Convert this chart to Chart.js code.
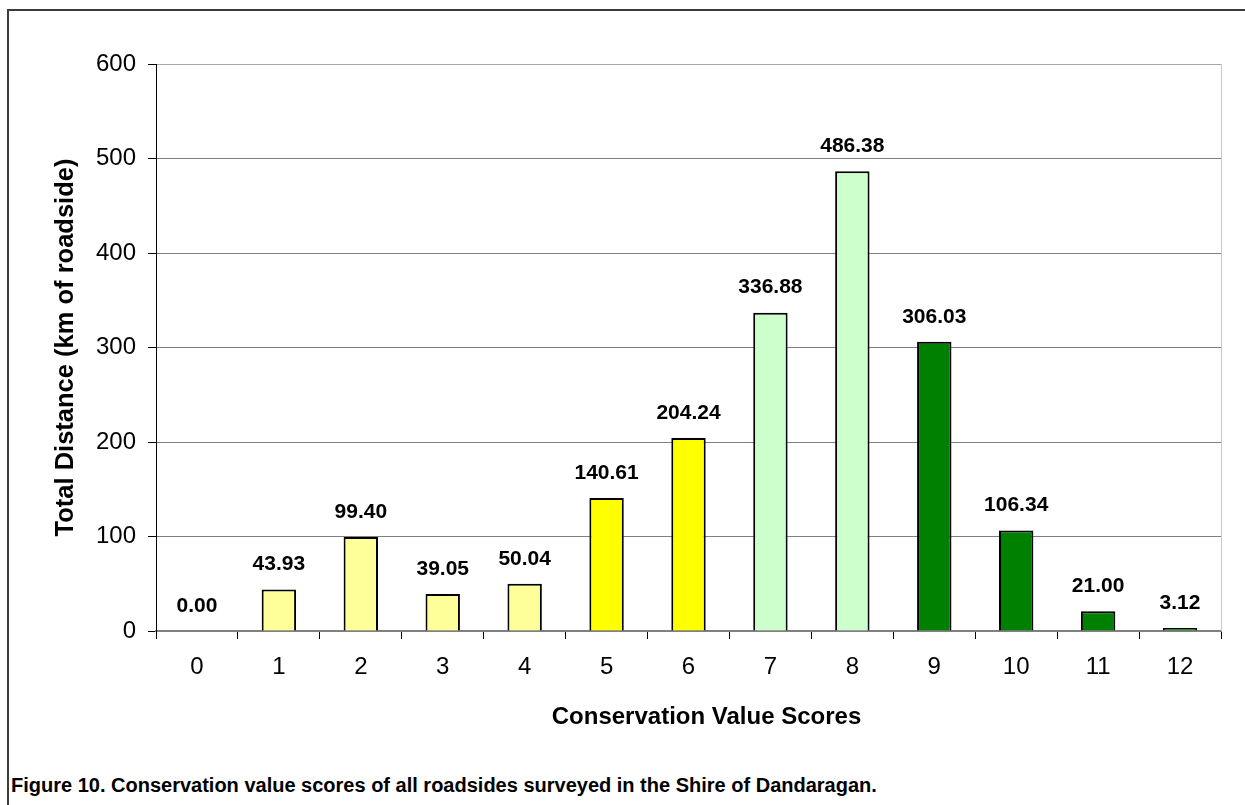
<!DOCTYPE html>
<html>
<head>
<meta charset="utf-8">
<script src="https://cdn.jsdelivr.net/npm/chart.js@4.4.1/dist/chart.umd.min.js"></script>
<style>
  html, body { margin: 0; padding: 0; background: #fff; }
  body { width: 1245px; height: 805px; position: relative; overflow: hidden; }
  #frame {
    position: absolute; left: 7px; top: 9px; width: 1260px; height: 820px;
    border-left: 2px solid #3c3c3c; border-top: 2px solid #3c3c3c;
  }
  #chart { position: absolute; left: 0; top: 0; }
  #caption {
    position: absolute; left: 11px; top: 773px;
    font-family: "Liberation Sans", Arial, sans-serif; font-weight: bold;
    font-size: 20px; line-height: 24px; color: #000; white-space: nowrap;
  }
</style>
</head>
<body>
<div id="frame"></div>
<canvas id="chart" width="1245" height="760"></canvas>
<div id="caption">Figure 10. Conservation value scores of all roadsides surveyed in the Shire of Dandaragan.</div>
<script>
// Conservation value score classes and total roadside length (km) in each
const scores = ['0', '1', '2', '3', '4', '5', '6', '7', '8', '9', '10', '11', '12'];
const distanceKm = [0.00, 43.93, 99.40, 39.05, 50.04, 140.61, 204.24, 336.88, 486.38, 306.03, 106.34, 21.00, 3.12];
const yTicks = [0, 100, 200, 300, 400, 500, 600];
const xTitle = 'Conservation Value Scores';
const yTitle = 'Total Distance (km of roadside)';

// Fill colours by score band: very low, low, medium, high
const barColors = [
  '#FFFF99', '#FFFF99', '#FFFF99', '#FFFF99', '#FFFF99',
  '#FFFF00', '#FFFF00',
  '#CCFFCC', '#CCFFCC',
  '#008000', '#008000', '#008000', '#008000'
];

const FONT = '"Liberation Sans", Arial, sans-serif';

// Value labels printed above each bar
const valueLabels = {
  id: 'valueLabels',
  afterDatasetsDraw(chart) {
    const { ctx } = chart;
    const meta = chart.getDatasetMeta(0);
    ctx.save();
    ctx.font = 'bold 21px ' + FONT;
    ctx.fillStyle = '#000';
    ctx.textAlign = 'center';
    ctx.textBaseline = 'middle';
    meta.data.forEach((bar, i) => {
      const v = chart.data.datasets[0].data[i];
      ctx.fillText(v.toFixed(2), bar.x, bar.y - 25);
    });
    ctx.restore();
  }
};

// Light frame on the right edge of the plot area, and the category axis title
// set slightly right of centre under the plot
const plotFrame = {
  id: 'plotFrame',
  beforeDatasetsDraw(chart) {
    const { ctx, chartArea: a } = chart;
    ctx.save();
    ctx.strokeStyle = '#c8c8c8';
    ctx.lineWidth = 1;
    ctx.beginPath();
    ctx.moveTo(a.right + 0.5, a.top);
    ctx.lineTo(a.right + 0.5, a.bottom);
    ctx.stroke();
    ctx.restore();
  },
  afterDraw(chart) {
    const { ctx, chartArea: a } = chart;
    ctx.save();
    ctx.font = 'bold 24px ' + FONT;
    ctx.fillStyle = '#000';
    ctx.textAlign = 'center';
    ctx.textBaseline = 'middle';
    ctx.fillText(xTitle, (a.left + a.right) / 2 + 18, a.bottom + 86);
    ctx.restore();
  }
};

new Chart(document.getElementById('chart'), {
  type: 'bar',
  data: {
    labels: scores,
    datasets: [{
      data: distanceKm,
      backgroundColor: barColors,
      borderColor: '#000',
      borderWidth: 2,
      barPercentage: 0.42,
      categoryPercentage: 1.0
    }]
  },
  options: {
    responsive: false,
    animation: false,
    devicePixelRatio: 1,
    layout: { padding: { left: 0, top: 64, right: 24, bottom: 29 } },
    plugins: {
      legend: { display: false },
      tooltip: { enabled: false },
      title: { display: false }
    },
    scales: {
      x: {
        offset: true,
        afterFit(scale) { scale.height = 100; },
        grid: {
          offset: true,
          drawOnChartArea: false,
          drawTicks: true,
          tickLength: 8,
          tickColor: '#000',
          tickWidth: 1
        },
        border: { color: '#808080', width: 2 },
        ticks: {
          color: '#000',
          font: { family: FONT, size: 24 },
          padding: 14,
          maxRotation: 0
        },
        title: { display: false }
      },
      y: {
        min: 0,
        max: 600,
        afterFit(scale) { scale.width = 156; },
        afterBuildTicks(scale) { scale.ticks = yTicks.map(v => ({ value: v })); },
        grid: {
          color: ctx => (ctx.tick && ctx.tick.value === 600 ? '#a8a8a8' : '#808080'),
          lineWidth: 1,
          drawTicks: true,
          tickLength: 8,
          tickColor: '#000'
        },
        border: { color: '#000', width: 1 },
        ticks: {
          color: '#000',
          font: { family: FONT, size: 24 },
          padding: 12
        },
        title: {
          display: true,
          text: yTitle,
          color: '#000',
          font: { family: FONT, size: 25.5, weight: 'bold' },
          padding: { top: 51, bottom: 0 }
        }
      }
    }
  },
  plugins: [valueLabels, plotFrame]
});
</script>
</body>
</html>
